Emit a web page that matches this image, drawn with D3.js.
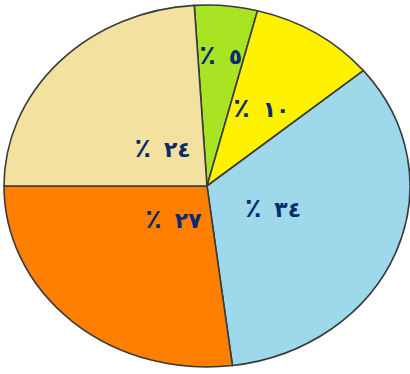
<!DOCTYPE html>
<html>
<head>
<meta charset="utf-8">
<script src="https://cdn.jsdelivr.net/npm/d3@7"></script>
<style>
  html, body { margin: 0; padding: 0; background: #ffffff; }
  svg { display: block; }
</style>
</head>
<body>
<div id="chart"></div>
<script>
// Slice shares (percent), clockwise from the top
const values = [5, 10, 34, 27, 24];
// Value labels written with Arabic-Indic digits
const valueLabels = ["٥", "١٠", "٣٤", "٢٧", "٢٤"];
const percentSign = "٪";

// Styling / layout
const sliceColors = ["#a8e424", "#fff200", "#9dd9ea", "#ff7f00", "#f3e19f"];
const labelRadius = [0.72, 0.5, 0.35, 0.25, 0.3]; // fraction of the radius
const width = 410, height = 374;
const cx = 207, cy = 186, rx = 203, ry = 181;
const R = 100;
const startDeg = -3.6;

const svg = d3.select("#chart").append("svg")
  .attr("width", width).attr("height", height);

const pie = d3.pie()
  .sort(null)
  .value(d => d)
  .startAngle(startDeg * Math.PI / 180)
  .endAngle(startDeg * Math.PI / 180 + 2 * Math.PI);

const arcs = pie(values);
const arc = d3.arc().innerRadius(0).outerRadius(R);

// The pie is drawn as a circle and stretched into an ellipse
const g = svg.append("g")
  .attr("transform", `translate(${cx},${cy}) scale(${rx / R},${ry / R})`);

g.selectAll("path.slice")
  .data(arcs)
  .join("path")
  .attr("class", "slice")
  .attr("d", arc)
  .attr("fill", (d, i) => sliceColors[i])
  .attr("stroke", "#3a3a3a")
  .attr("stroke-width", 1.6)
  .attr("stroke-linejoin", "round")
  .attr("vector-effect", "non-scaling-stroke");

// Labels: percent sign on the left, the number on the right
const labels = svg.append("g")
  .attr("font-family", "'DejaVu Sans', sans-serif")
  .attr("font-weight", "bold")
  .attr("font-size", 22)
  .attr("fill", "#0b2a6e");

arcs.forEach((d, i) => {
  const r = labelRadius[i] * R;
  const [px, py] = d3.arc().innerRadius(r).outerRadius(r).centroid(d);
  const t = labels.append("text")
    .attr("x", cx + px * rx / R)
    .attr("y", cy + py * ry / R)
    .attr("dy", "0.35em")
    .attr("text-anchor", "middle");
  t.append("tspan").attr("font-size", 27).text(percentSign);
  t.append("tspan").attr("dx", 13).text(valueLabels[i]);
});
</script>
</body>
</html>
